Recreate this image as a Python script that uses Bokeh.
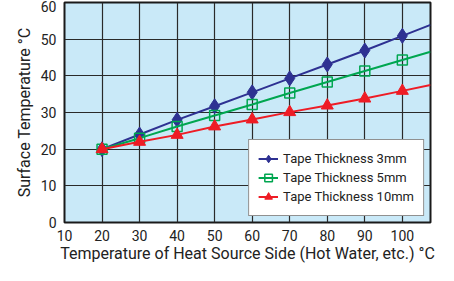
from bokeh.plotting import figure
from bokeh.models import Range1d, FixedTicker, Legend, LegendItem
from bokeh.embed import file_html
from bokeh.resources import INLINE

x_vals = [20, 30, 40, 50, 60, 70, 80, 90, 100]
t3mm = [20, 24, 28, 31.7, 35.5, 39.3, 43.1, 46.9, 50.9]
t5mm = [20, 23, 26.2, 29.2, 32.2, 35.3, 38.3, 41.3, 44.3]
t10mm = [20, 22, 23.9, 26.2, 28.1, 30.1, 31.9, 33.8, 35.9]
labels = ["Tape Thickness 3mm", "Tape Thickness 5mm", "Tape Thickness 10mm"]
x_ticks = [10, 20, 30, 40, 50, 60, 70, 80, 90, 100]
y_ticks = [0, 10, 20, 30, 40, 50, 60]
x_title = "Temperature of Heat Source Side (Hot Water, etc.) °C"
y_title = "Surface Temperature °C"

X_START, X_END = 10, 107.5
FONT = "Roboto"

p = figure(width=438, height=265, output_backend="svg", toolbar_location=None,
           x_range=Range1d(X_START, X_END), y_range=Range1d(0, 60),
           min_border_left=64, min_border_right=8, min_border_top=2, min_border_bottom=0)
p.background_fill_color = "#c9e9f8"
p.border_fill_color = "white"
p.outline_line_color = "#1a1a1a"
p.outline_line_width = 2

for ax in (p.xaxis, p.yaxis):
    ax.major_tick_line_color = None
    ax.minor_tick_line_color = None
    ax.major_tick_out = 0
    ax.major_tick_in = 0
    ax.axis_line_color = None
    ax.major_label_text_font = FONT
    ax.major_label_text_font_size = "14px"
    ax.major_label_text_color = "#222222"
    ax.axis_label_text_font = FONT
    ax.axis_label_text_font_size = "16px"
    ax.axis_label_text_font_style = "normal"
    ax.axis_label_text_color = "#222222"
p.xaxis.ticker = FixedTicker(ticks=x_ticks)
p.yaxis.ticker = FixedTicker(ticks=y_ticks)
p.xaxis.axis_label = x_title
p.yaxis.axis_label = y_title
p.xaxis.major_label_standoff = 7
p.yaxis.major_label_standoff = 8
p.xaxis.axis_label_standoff = 0
p.yaxis.axis_label_standoff = 4

p.xgrid.ticker = FixedTicker(ticks=x_ticks)
p.ygrid.ticker = FixedTicker(ticks=y_ticks)
p.grid.grid_line_color = "#2a2a2a"
p.grid.grid_line_width = 1.2


def extend(xs, ys):
    slope = (ys[-1] - ys[-2]) / (xs[-1] - xs[-2])
    return list(xs) + [X_END], list(ys) + [ys[-1] + slope * (X_END - xs[-1])]


series = [
    (t3mm, "#2e3192", "diamond", 15, True),
    (t5mm, "#00a650", "square", 10, False),
    (t10mm, "#ee1c25", "triangle", 12, True),
]
items = []
for (ys, col, mk, sz, filled), lab in zip(series, labels):
    lx, ly = extend(x_vals, ys)
    r1 = p.line(lx, ly, line_color=col, line_width=2)
    if filled:
        r2 = p.scatter(x_vals, ys, marker=mk, size=sz, fill_color=col, line_color=col)
    else:
        r2 = p.scatter(x_vals, ys, marker=mk, size=sz, fill_color=None, line_color=col, line_width=1.5)
    items.append(LegendItem(label=lab, renderers=[r1, r2]))

legend = Legend(items=items, location="bottom_right")
legend.label_text_font = FONT
legend.label_text_font_size = "13px"
legend.label_text_color = "#222222"
legend.border_line_color = "#222222"
legend.border_line_width = 1
legend.background_fill_color = "white"
legend.background_fill_alpha = 1
legend.glyph_width = 20
legend.glyph_height = 19
legend.label_height = 19
legend.spacing = 0
legend.padding = 9
legend.margin = 6
legend.label_standoff = 5
p.add_layout(legend, "center")

open("out.html", "w").write(file_html(p, INLINE))
